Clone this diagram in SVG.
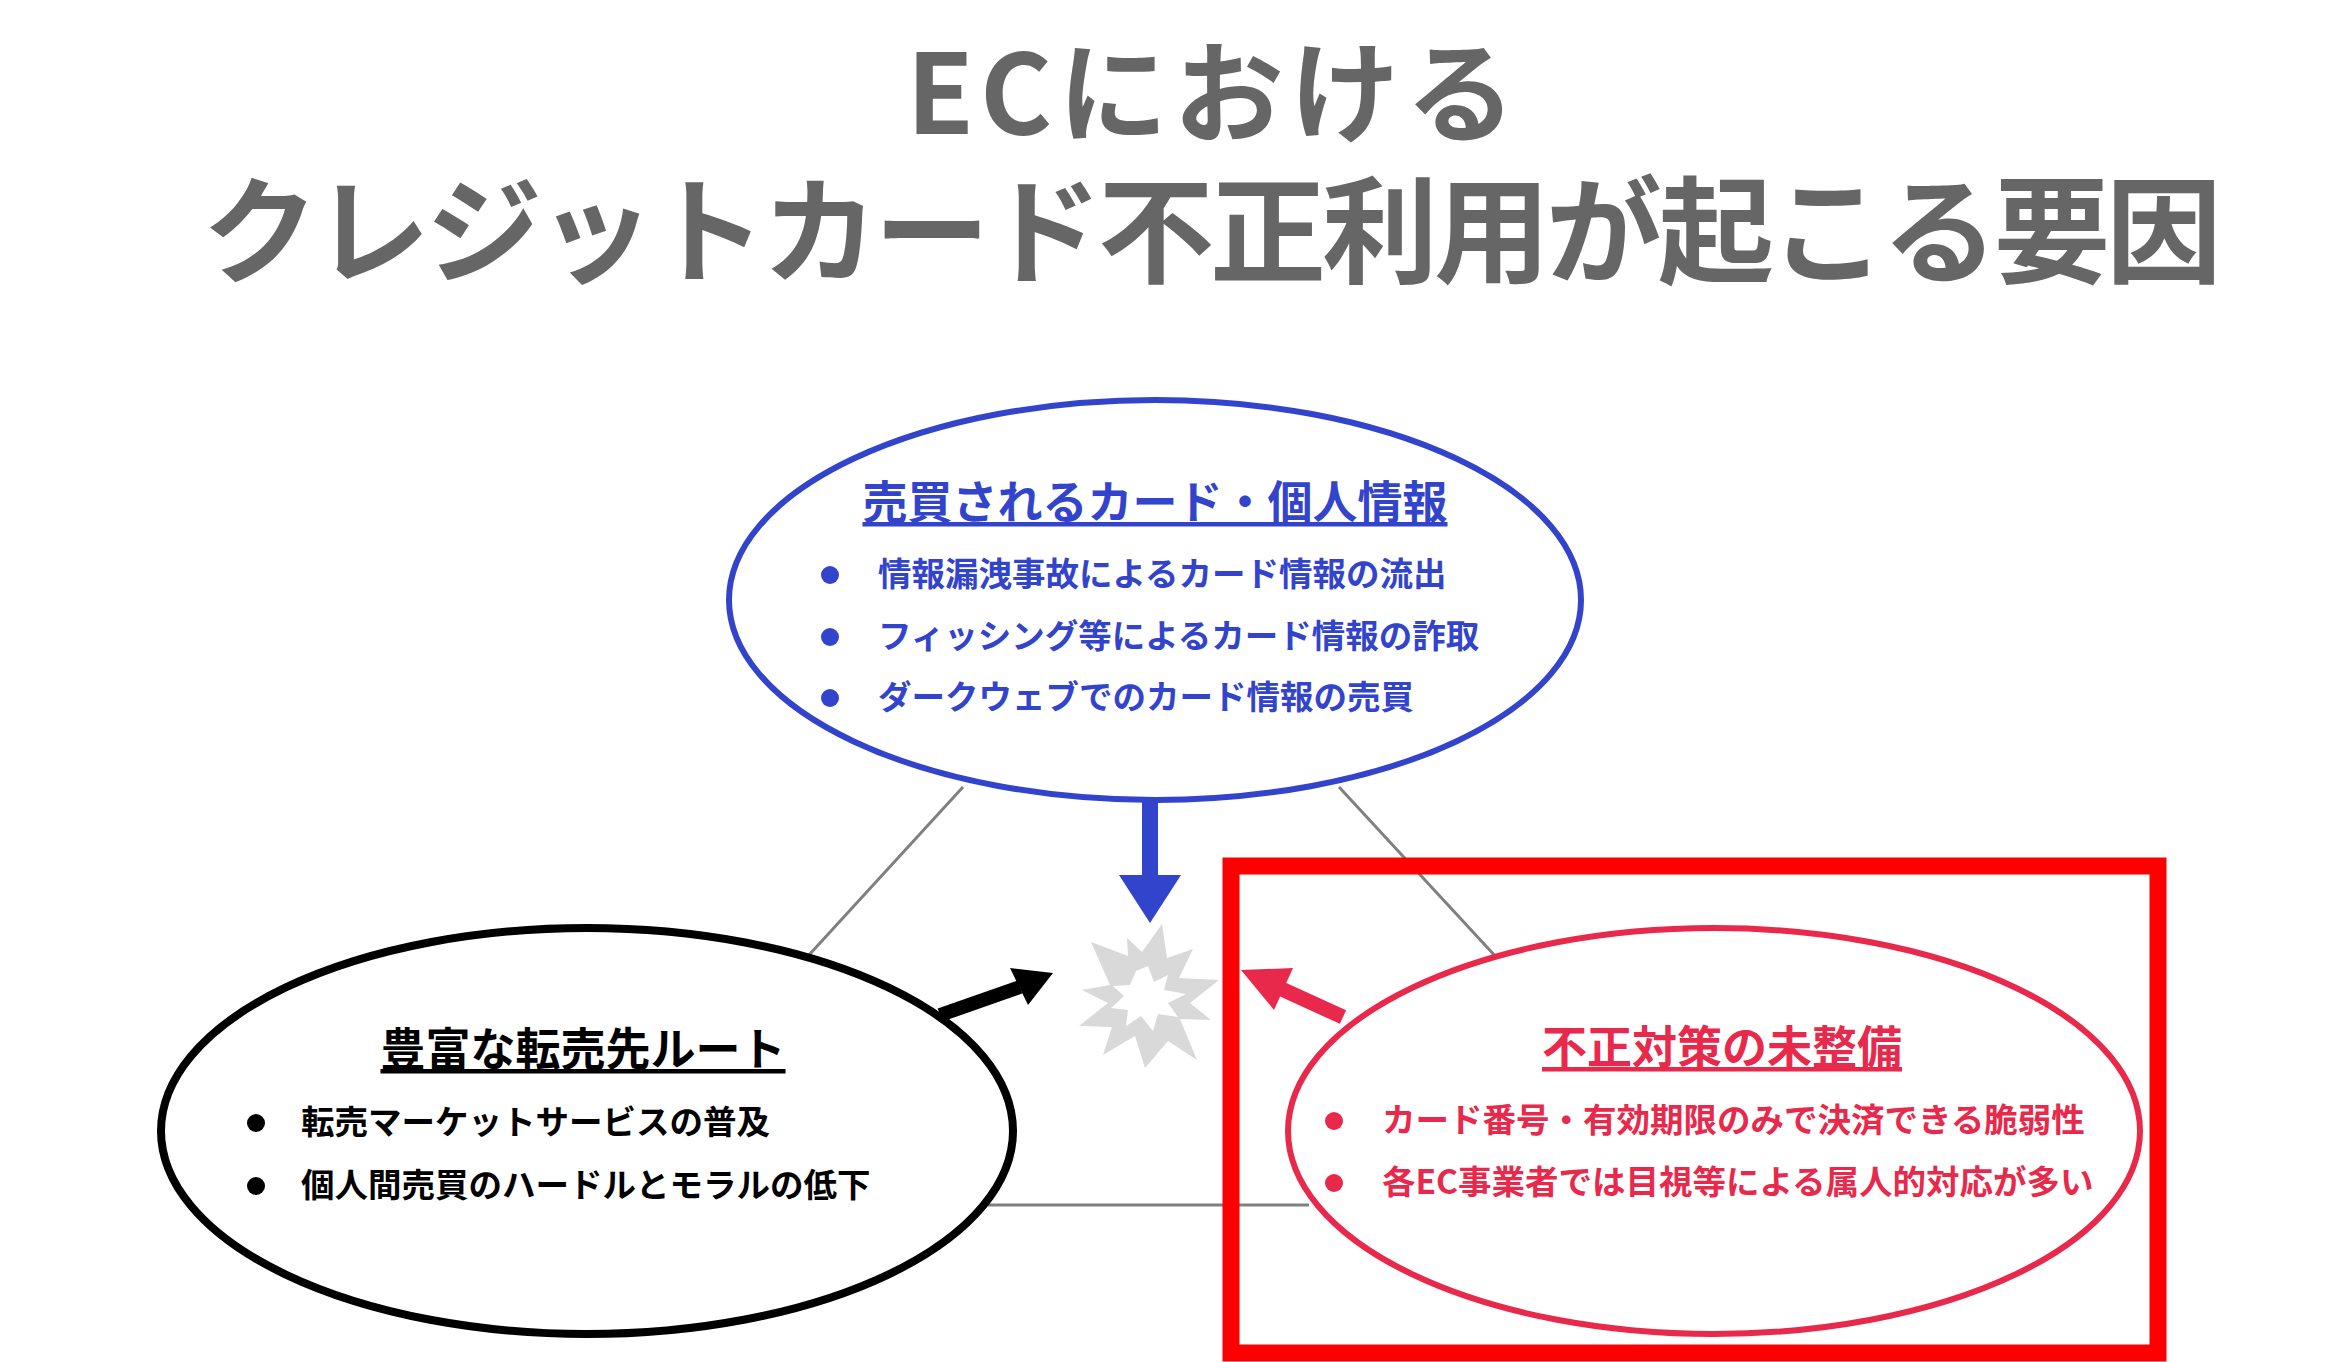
<svg xmlns="http://www.w3.org/2000/svg" width="2346" height="1362" viewBox="0 0 2346 1362">
<style>
text{font-family:"Noto Sans CJK JP","Noto Sans",sans-serif;font-weight:bold}
.t{fill:#666;font-size:116px}
.h{font-size:45px;text-anchor:middle;text-decoration:underline}
.b{font-size:33.5px}
.blue{fill:#3344cc}.red{fill:#e8294b}.blk{fill:#000}
.g{stroke:#808080;stroke-width:3}
</style>
<rect width="2346" height="1362" fill="#fff"/>
<g id="title">
<text class="t" x="1211" y="134" text-anchor="middle" textLength="609" style="font-size:110px">ECにおける</text>
<text class="t" x="1212" y="274" text-anchor="middle" textLength="2020">クレジットカード不正利用が起こる要因</text>
</g>
<g id="connectors">
<line class="g" x1="963" y1="787" x2="809" y2="955"/>
<line class="g" x1="1339" y1="787" x2="1497" y2="958"/>
<line class="g" x1="988" y1="1205" x2="1309" y2="1205"/>
<path d="M1142 800 h16 v75 h23 l-31 48 l-31 -48 h23 z" fill="#3344cc"/>
<path d="M940 1015 L1020 987" stroke="#000" stroke-width="14"/>
<path d="M1053 973 L1010 968 L1028 1005 z" fill="#000"/>
<path d="M1343 1017 L1275 986" stroke="#e8294b" stroke-width="15"/>
<path d="M1241 970 L1293 968 L1274 1010 z" fill="#e8294b"/>
</g>
<g id="burst">
<polygon fill="#d9d9d9" points="1162,924 1167,958 1193,949 1179,978 1219,980 1190,1003 1211,1020 1180,1019 1197,1060 1168,1041 1145,1068 1135,1036 1103,1055 1112,1027 1079,1026 1108,1003 1082,990 1110,985 1091,942 1128,956 1127,938 1142,952"/>
<polygon fill="#fff" points="1148,966 1154,982 1168,975 1164,990 1186,994 1168,1003 1178,1017 1158,1014 1153,1031 1141,1016 1126,1026 1128,1010 1111,1008 1124,996 1113,986 1130,985 1136,971"/>
</g>
<g id="top">
<ellipse cx="1155" cy="600" rx="426" ry="200" fill="#fff" stroke="#3344cc" stroke-width="6"/>
<text class="h blue" x="1155" y="519">売買されるカード・個人情報</text>
<g class="b blue">
<circle cx="830" cy="575" r="9" fill="#3344cc"/><text x="878" y="586">情報漏洩事故によるカード情報の流出</text>
<circle cx="830" cy="637" r="9" fill="#3344cc"/><text x="878" y="648">フィッシング等によるカード情報の詐取</text>
<circle cx="830" cy="698" r="9" fill="#3344cc"/><text x="878" y="709">ダークウェブでのカード情報の売買</text>
</g>
</g>
<g id="left">
<ellipse cx="587" cy="1131" rx="426" ry="203" fill="#fff" stroke="#000" stroke-width="8"/>
<text class="h blk" x="583" y="1066">豊富な転売先ルート</text>
<g class="b blk">
<circle cx="256" cy="1123" r="9"/><text x="301" y="1134">転売マーケットサービスの普及</text>
<circle cx="256" cy="1186" r="9"/><text x="301" y="1197">個人間売買のハードルとモラルの低下</text>
</g>
</g>
<g id="right">
<ellipse cx="1714" cy="1131" rx="426" ry="203" fill="#fff" stroke="#e8294b" stroke-width="6"/>
<text class="h red" x="1722" y="1064">不正対策の未整備</text>
<g class="b red">
<circle cx="1334" cy="1121" r="9" fill="#e8294b"/><text x="1382" y="1132">カード番号・有効期限のみで決済できる脆弱性</text>
<circle cx="1334" cy="1183" r="9" fill="#e8294b"/><text x="1382" y="1194">各EC事業者では目視等による属人的対応が多い</text>
</g>
</g>
<rect id="highlight" x="1231" y="866" width="927" height="487" fill="none" stroke="#ff0000" stroke-width="17"/>
</svg>
